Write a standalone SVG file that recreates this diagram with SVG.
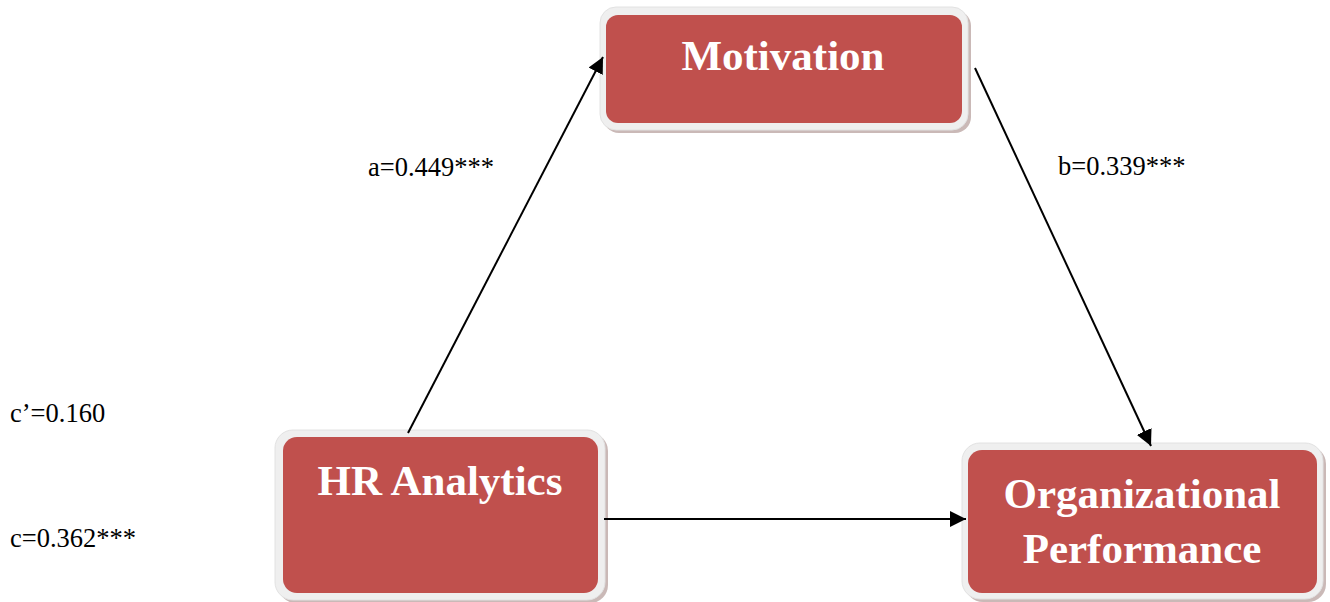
<svg xmlns="http://www.w3.org/2000/svg" width="1330" height="602" viewBox="0 0 1330 602">
<style>
.shadow{fill:#b39b99;opacity:0.7}
.frame{fill:#efefef;stroke:#e2e2e2;stroke-width:1}
.box{fill:#c0504d}
.title{font-family:"Liberation Serif","Times New Roman",serif;font-weight:bold;font-size:43px;fill:#ffffff;text-anchor:middle}
.lbl{font-family:"Liberation Serif","Times New Roman",serif;font-size:26.5px;fill:#000000}
.conn{stroke:#000;stroke-width:2;fill:none}
</style>
<defs>
<marker id="arr" viewBox="0 0 10 10" refX="10" refY="5" markerWidth="8" markerHeight="8" orient="auto" markerUnits="strokeWidth">
<path d="M0,0 L10,5 L0,10 z" fill="#000"/>
</marker>
</defs>
<rect width="1330" height="602" fill="#ffffff"/>
<g id="motivation">
<rect class="shadow" x="603" y="10" width="368" height="123" rx="16"/>
<rect class="frame" x="600" y="7" width="368" height="123" rx="16"/>
<rect class="box" x="606" y="15" width="356" height="108" rx="12"/>
<text class="title" x="783" y="70">Motivation</text>
</g>
<g id="hr-analytics">
<rect class="shadow" x="278" y="433" width="330" height="170" rx="18"/>
<rect class="frame" x="275" y="430" width="330" height="170" rx="18"/>
<rect class="box" x="283" y="437" width="315" height="156" rx="14"/>
<text class="title" x="440" y="495">HR Analytics</text>
</g>
<g id="org-performance">
<rect class="shadow" x="965" y="446" width="361" height="156" rx="18"/>
<rect class="frame" x="962" y="443" width="361" height="156" rx="18"/>
<rect class="box" x="968" y="450" width="349" height="143" rx="14"/>
<text class="title" x="1142" y="508">Organizational</text>
<text class="title" x="1142" y="563">Performance</text>
</g>
<g id="connectors">
<line class="conn" x1="408" y1="433" x2="603" y2="57" marker-end="url(#arr)"/>
<line class="conn" x1="975" y1="68" x2="1151" y2="446" marker-end="url(#arr)"/>
<line class="conn" x1="604" y1="519" x2="966" y2="519" marker-end="url(#arr)"/>
</g>
<g id="labels">
<text class="lbl" x="368" y="176">a=0.449***</text>
<text class="lbl" x="1058" y="175">b=0.339***</text>
<text class="lbl" x="10" y="422">c’=0.160</text>
<text class="lbl" x="10" y="547">c=0.362***</text>
</g>
</svg>
